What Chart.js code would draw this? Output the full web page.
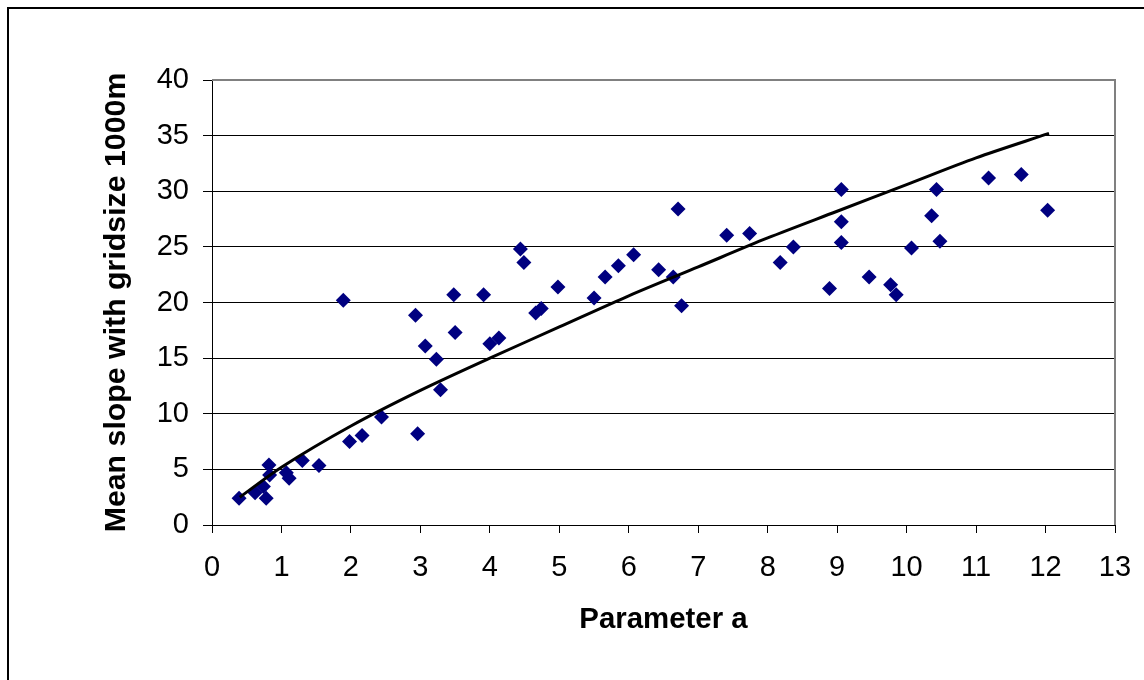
<!DOCTYPE html>
<html>
<head>
<meta charset="utf-8">
<script src="https://cdn.jsdelivr.net/npm/chart.js@4/dist/chart.umd.min.js"></script>
<style>
  html, body { margin: 0; padding: 0; background: #fff; }
  canvas { display: block; }
</style>
</head>
<body>
<canvas id="c" width="1144" height="680"></canvas>
<script>
// Scatter data: Parameter a vs mean slope
const paramA = [0.39,0.62,0.74,0.78,0.82,0.83,1.07,1.11,1.30,1.54,1.89,1.98,2.16,2.44,2.93,2.96,3.07,3.23,3.29,3.48,3.50,3.91,4.00,4.13,4.44,4.49,4.66,4.74,4.98,5.50,5.66,5.85,6.07,6.43,6.64,6.71,6.76,7.41,7.74,8.18,8.37,8.89,9.06,9.06,9.06,9.46,9.77,9.85,10.07,10.36,10.43,10.48,11.18,11.65,12.03];
const meanSlope = [2.4,2.9,3.45,2.4,5.4,4.5,4.7,4.2,5.8,5.35,20.2,7.5,8.05,9.7,18.85,8.2,16.1,14.9,12.15,20.7,17.3,20.7,16.3,16.8,24.8,23.6,19.05,19.45,21.4,20.4,22.3,23.3,24.3,22.95,22.3,28.4,19.7,26.05,26.2,23.6,25.0,21.25,30.15,27.25,25.4,22.3,21.6,20.7,24.9,27.8,30.15,25.5,31.2,31.5,28.3];
// Trend line
const trendA = [0.4,1,2,3,4,5,6,7,8,9,10,11,12.05];
const trendSlope = [2.5,5.2,8.9,12.1,15.0,17.8,20.6,23.2,25.8,28.2,30.6,33.0,35.2];
// Axis labels
const xTitle = 'Parameter a';
const yTitle = 'Mean slope with gridsize 1000m';

const FONT = "'Liberation Sans', Arial, sans-serif";

const scatterPts = paramA.map((a, i) => ({x: a, y: meanSlope[i]}));
const trendPts = trendA.map((a, i) => ({x: a, y: trendSlope[i]}));

const framePlugin = {
  id: 'frame',
  beforeDraw(chart) {
    const ctx = chart.ctx;
    ctx.save();
    ctx.fillStyle = '#fff';
    ctx.fillRect(0, 0, chart.width, chart.height);
    ctx.strokeStyle = '#000';
    ctx.lineWidth = 2;
    ctx.beginPath();
    ctx.moveTo(8, chart.height + 2);
    ctx.lineTo(8, 8);
    ctx.lineTo(chart.width + 2, 8);
    ctx.stroke();
    ctx.restore();
  },
  afterDatasetsDraw(chart) {
    const {ctx, chartArea: ca} = chart;
    ctx.save();
    ctx.strokeStyle = '#808080';
    ctx.lineWidth = 2;
    ctx.beginPath();
    ctx.moveTo(ca.left, ca.top);
    ctx.lineTo(ca.right, ca.top);
    ctx.lineTo(ca.right, ca.bottom);
    ctx.stroke();
    ctx.restore();
  }
};

new Chart(document.getElementById('c'), {
  type: 'scatter',
  data: {
    datasets: [
      {
        type: 'line',
        label: 'Trend',
        data: trendPts,
        borderColor: '#000',
        borderWidth: 3,
        pointRadius: 0,
        fill: false,
        tension: 0.3,
        order: 0
      },
      {
        label: 'Data',
        data: scatterPts,
        backgroundColor: '#000080',
        borderColor: '#000080',
        borderWidth: 0,
        pointStyle: 'rectRot',
        pointRadius: 7.5,
        order: 1
      }
    ]
  },
  options: {
    responsive: false,
    animation: false,
    devicePixelRatio: 1,
    layout: { padding: { left: 0, top: 80, right: 29, bottom: 0 } },
    plugins: { legend: { display: false }, tooltip: { enabled: false } },
    scales: {
      x: {
        type: 'linear',
        min: 0, max: 13,
        ticks: { stepSize: 1, color: '#000', font: { family: FONT, size: 29 }, padding: 18, maxRotation: 0 },
        grid: { drawOnChartArea: false, drawTicks: true, tickLength: 8, color: '#000', lineWidth: 1 },
        border: { display: true, color: '#000', width: 1 },
        title: { display: true, text: xTitle, color: '#000', font: { family: FONT, size: 29.4, weight: 'bold' }, padding: { top: 0, bottom: 42 } },
        afterFit(scale) { scale.height = 155; scale.paddingLeft = 0; scale.paddingRight = 0; }
      },
      y: {
        type: 'linear',
        min: 0, max: 40,
        ticks: { stepSize: 5, color: '#000', font: { family: FONT, size: 29 }, padding: 14 },
        grid: { drawOnChartArea: true, drawTicks: true, tickLength: 9, color: '#000', lineWidth: 1 },
        border: { display: true, color: '#000', width: 1 },
        title: { display: true, text: yTitle, color: '#000', font: { family: FONT, size: 30.3, weight: 'bold' }, padding: { top: 98, bottom: 0 } },
        afterFit(scale) { scale.width = 212; scale.paddingTop = 0; scale.paddingBottom = 0; }
      }
    }
  },
  plugins: [framePlugin]
});
</script>
</body>
</html>
